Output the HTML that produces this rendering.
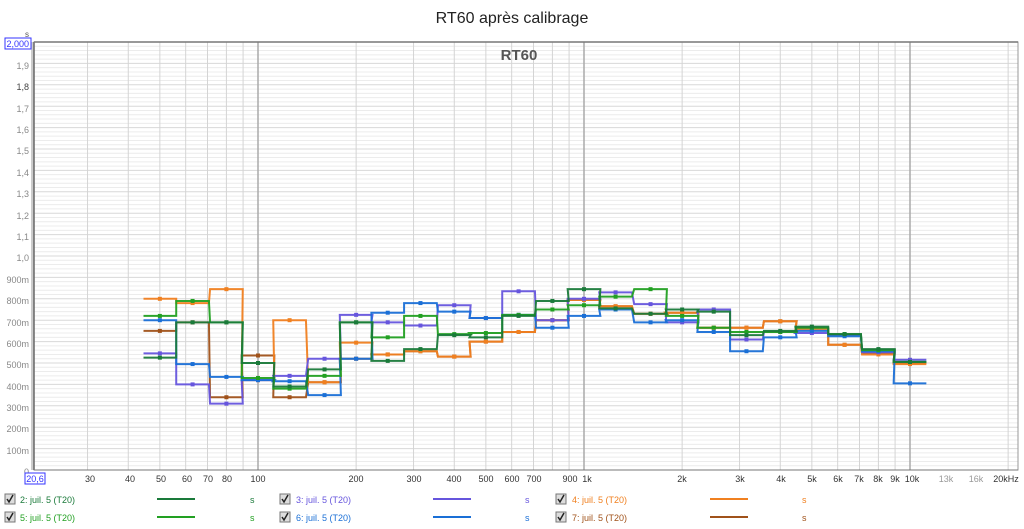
<!DOCTYPE html>
<html><head><meta charset="utf-8"><style>
body{margin:0;background:#fff;width:1024px;height:529px;overflow:hidden;font-family:"Liberation Sans",sans-serif}
svg{position:absolute;left:0;top:0}
</style></head><body>
<svg id="s" width="1024" height="529" xmlns="http://www.w3.org/2000/svg" font-family="Liberation Sans, sans-serif">
<rect x="0" y="0" width="1024" height="529" fill="#fff"/>
<g id="grid"></g>
<g id="series"></g>
<text x="512" y="23" text-anchor="middle" font-size="16" fill="#222">RT60 après calibrage</text>
<text x="519" y="60" text-anchor="middle" font-size="15" font-weight="bold" fill="#555">RT60</text>
<g font-size="9" fill="#888" text-anchor="end">
<text x="29" y="37" fill="#555" font-size="8">s</text>
<rect x="5" y="38" width="26" height="11" fill="#fff" stroke="#33f"/>
<text x="29" y="47" fill="#33f">2,000</text>
<text x="29" y="69">1,9</text><text x="29" y="90" fill="#444">1,8</text><text x="29" y="112">1,7</text>
<text x="29" y="133">1,6</text><text x="29" y="154">1,5</text><text x="29" y="176">1,4</text>
<text x="29" y="197">1,3</text><text x="29" y="219">1,2</text><text x="29" y="240">1,1</text>
<text x="29" y="261">1,0</text><text x="29" y="283">900m</text><text x="29" y="304">800m</text>
<text x="29" y="326">700m</text><text x="29" y="347">600m</text><text x="29" y="368">500m</text>
<text x="29" y="390">400m</text><text x="29" y="411">300m</text><text x="29" y="432">200m</text>
<text x="29" y="454">100m</text><text x="29" y="475">0</text>
</g>
<rect x="25" y="473" width="20" height="11" fill="#fff" stroke="#33f"/>
<text x="35" y="482" font-size="9" fill="#33f" text-anchor="middle">20,6</text>
<g font-size="9" fill="#333" text-anchor="middle">
<text x="90" y="482">30</text><text x="130" y="482">40</text><text x="161" y="482">50</text>
<text x="187" y="482">60</text><text x="208" y="482">70</text><text x="227" y="482">80</text>
<text x="258" y="482">100</text><text x="356" y="482">200</text><text x="414" y="482">300</text>
<text x="454" y="482">400</text><text x="486" y="482">500</text><text x="512" y="482">600</text>
<text x="534" y="482">700</text><text x="570" y="482">900</text><text x="587" y="482">1k</text>
<text x="682" y="482">2k</text><text x="740" y="482">3k</text><text x="781" y="482">4k</text>
<text x="812" y="482">5k</text><text x="838" y="482">6k</text><text x="859" y="482">7k</text>
<text x="878" y="482">8k</text><text x="895" y="482">9k</text><text x="912" y="482">10k</text>
<text x="946" y="482" fill="#999">13k</text><text x="976" y="482" fill="#999">16k</text><text x="1006" y="482">20kHz</text>
</g>
<g font-size="9">
<g id="leg"></g>
<text x="20" y="503" fill="#1a7a3a">2: juil. 5 (T20)</text><text x="250" y="503" fill="#1a7a3a">s</text>
<text x="296" y="503" fill="#6655dd">3: juil. 5 (T20)</text><text x="525" y="503" fill="#6655dd">s</text>
<text x="572" y="503" fill="#f08020">4: juil. 5 (T20)</text><text x="802" y="503" fill="#f08020">s</text>
<text x="20" y="521" fill="#22a022">5: juil. 5 (T20)</text><text x="250" y="521" fill="#22a022">s</text>
<text x="296" y="521" fill="#1a6fd6">6: juil. 5 (T20)</text><text x="525" y="521" fill="#1a6fd6">s</text>
<text x="572" y="521" fill="#a0521a">7: juil. 5 (T20)</text><text x="802" y="521" fill="#a0521a">s</text>
</g>
</svg>
<script>
const NS="http://www.w3.org/2000/svg";
function el(p,t,a){const e=document.createElementNS(NS,t);for(const k in a)e.setAttribute(k,a[k]);p.appendChild(e);return e;}
const X=f=>584+326*Math.log10(f/1000), Y=v=>470-214*v;
const L=34,R=1018,T=42,B=470;
const g=document.getElementById('grid');
for(let i=0;i<=100;i++){const y=Y(i*0.02);el(g,'line',{x1:L,x2:R,y1:y,y2:y,stroke:i%5==0?'#d8d8d8':'#ececec','stroke-width':1});}
const fs=[30,40,50,60,70,80,90,100,200,300,400,500,600,700,800,900,1000,2000,3000,4000,5000,6000,7000,8000,9000,10000,20000];
fs.forEach(f=>{const x=X(f);const maj=(f==100||f==1000||f==10000);el(g,'line',{x1:x,x2:x,y1:T,y2:B,stroke:maj?'#aaa':'#d4d4d4','stroke-width':maj?1.5:1});});
el(g,'rect',{x:L,y:T,width:R-L,height:B-T,fill:'none',stroke:'#999'});
el(g,'rect',{x:31,y:T,width:3,height:B-T,fill:'#ccc'});
el(g,'line',{x1:L,x2:L,y1:T,y2:B,stroke:'#666','stroke-width':1.5});
el(g,'line',{x1:L,x2:R,y1:T,y2:T,stroke:'#777','stroke-width':1.5});
el(g,'line',{x1:L,x2:R,y1:B,y2:B,stroke:'#777','stroke-width':1});
const cf=[50,63,80,100,125,160,200,250,315,400,500,630,800,1000,1250,1600,2000,2500,3150,4000,5000,6300,8000,10000];
const S=[
['#a0521a',[0.65,0.69,0.34,0.535,0.34,0.41,0.52,0.54,0.555,0.53,0.60,0.645,0.70,0.795,0.765,0.73,0.735,0.665,0.665,0.695,0.66,0.585,0.545,0.50]],
['#f08020',[0.80,0.78,0.845,0.42,0.70,0.41,0.595,0.54,0.555,0.53,0.60,0.645,0.70,0.795,0.765,0.73,0.735,0.665,0.665,0.695,0.66,0.585,0.54,0.495]],
['#6655dd',[0.545,0.40,0.31,0.42,0.44,0.52,0.725,0.69,0.675,0.77,0.71,0.835,0.70,0.80,0.83,0.775,0.69,0.75,0.61,0.645,0.64,0.63,0.55,0.515]],
['#1a6fd6',[0.70,0.495,0.435,0.42,0.415,0.35,0.52,0.735,0.78,0.74,0.71,0.725,0.665,0.72,0.75,0.69,0.70,0.645,0.555,0.62,0.65,0.625,0.555,0.405]],
['#22a022',[0.72,0.79,0.69,0.43,0.38,0.44,0.69,0.62,0.72,0.635,0.64,0.725,0.75,0.77,0.81,0.845,0.72,0.665,0.645,0.645,0.665,0.635,0.56,0.505]],
['#1a7a3a',[0.525,0.69,0.69,0.50,0.39,0.47,0.69,0.51,0.565,0.63,0.62,0.72,0.79,0.845,0.755,0.73,0.75,0.74,0.63,0.65,0.67,0.635,0.565,0.505]]];
const sg=document.getElementById('series');
S.forEach(([c,v])=>{let d='';cf.forEach((f,i)=>{const x0=X(f/Math.pow(2,1/6)),x1=X(f*Math.pow(2,1/6)),y=Y(v[i]);d+=(i?'L':'M')+x0+' '+y+'L'+x1+' '+y;});
el(sg,'path',{d,fill:'none',stroke:c,'stroke-width':2,opacity:0.95});
cf.forEach((f,i)=>el(sg,'rect',{x:X(f)-2,y:Y(v[i])-2,width:4,height:4,fill:c}));});
const lg=document.getElementById('leg');
const cols=[['#1a7a3a','#6655dd','#f08020'],['#22a022','#1a6fd6','#a0521a']];
[0,1].forEach(r=>{const y=r?517:499;[[9,157],[284,433],[560,710]].forEach(([cx,lx],j)=>{
el(lg,'rect',{x:cx-4,y:y-5,width:10,height:10,fill:'#ddd',stroke:'#777'});
el(lg,'path',{d:`M${cx-2} ${y} L${cx} ${y+3} L${cx+4} ${y-4}`,stroke:'#222','stroke-width':1.5,fill:'none'});
el(lg,'line',{x1:lx,x2:lx+38,y1:y,y2:y,stroke:cols[r][j],'stroke-width':2});});});
</script>
</body></html>
